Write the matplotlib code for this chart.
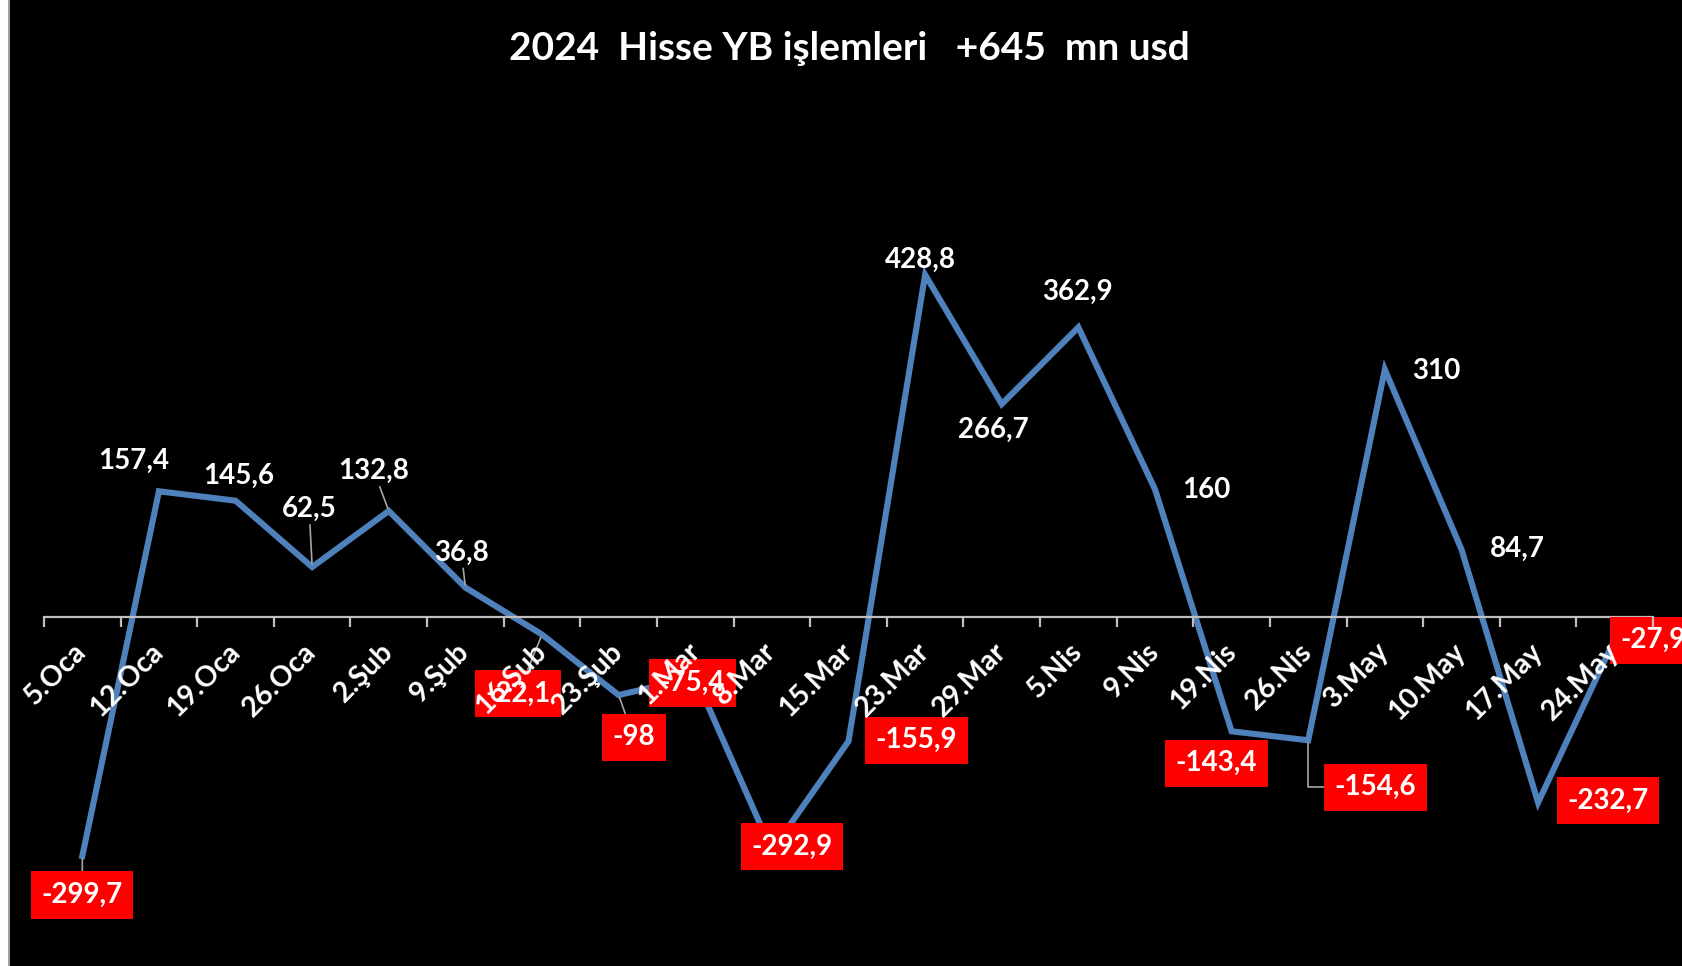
import matplotlib
matplotlib.use('Agg')
import matplotlib.pyplot as plt
from matplotlib.patches import Rectangle
from matplotlib.ticker import FixedLocator

# ---- data ----
title = "2024  Hisse YB işlemleri   +645  mn usd"
categories = ["5.Oca", "12.Oca", "19.Oca", "26.Oca", "2.Şub", "9.Şub", "16.Şub",
              "23.Şub", "1.Mar", "8.Mar", "15.Mar", "23.Mar", "29.Mar", "5.Nis",
              "9.Nis", "19.Nis", "26.Nis", "3.May", "10.May", "17.May", "24.May"]
values = [-299.7, 157.4, 145.6, 62.5, 132.8, 36.8, -22.1, -98, -75.4, -292.9,
          -155.9, 428.8, 266.7, 362.9, 160, -143.4, -154.6, 310, 84.7, -232.7, -27.9]

# ---- label placement (pixel offsets from point) ----
offsets = [(0, -39), (-25, 30), (3, 25), (-3, 58), (-15, 40), (-4, 35), (-24, -59),
           (15, -42), (-3, -6), (20, 4), (68, 1), (-5, 15), (-8, -26), (-1, 35),
           (51, -1), (-15, -32), (67, -47), (51, -1), (56, 0), (70, 2), (38, -1)]
leaders = {0, 3, 4, 5, 6, 7, 16}

W, H = 1682, 966
fig = plt.figure(figsize=(W / 100, H / 100), dpi=100)
fig.patch.set_facecolor('black')
fig.patches.append(Rectangle((0, 0), 8 / W, 1, transform=fig.transFigure,
                             facecolor='white', edgecolor='none', zorder=0))
fig.patches.append(Rectangle((8 / W, 0), 1.5 / W, 1, transform=fig.transFigure,
                             facecolor='#A0A0A0', edgecolor='none', zorder=0))

ax = fig.add_axes([44 / W, 0.031, (1653 - 44) / W, 0.826])
ax.set_facecolor('none')

x = list(range(len(categories)))
ax.plot(x, values, color='#4F81BD', lw=4.4, solid_joinstyle='miter', zorder=2)

ax.set_xlim(-0.5, len(categories) - 0.5)
ax.set_ylim(-400, 600)

for s in ['left', 'right', 'top']:
    ax.spines[s].set_visible(False)
ax.spines['bottom'].set_position(('data', 0))
ax.spines['bottom'].set_color('#BFBFBF')
ax.spines['bottom'].set_linewidth(1.6)
ax.set_yticks([])

ax.set_xticks(x)
ax.set_xticklabels(categories, rotation=45, ha='right', va='center',
                   rotation_mode='anchor', color='white', fontsize=20.5,
                   fontweight='bold', family='Lato')
ax.tick_params(axis='x', which='major', length=0, pad=22)
ax.xaxis.set_minor_locator(FixedLocator([i - 0.5 for i in range(len(categories) + 1)]))
ax.tick_params(axis='x', which='minor', length=7, width=1.6, color='#BFBFBF',
               direction='out')
ax.xaxis.set_zorder(4)

for i, v in enumerate(values):
    txt = f"{v:g}".replace('.', ',')
    dx, dy = offsets[i]
    kw = dict(xy=(i, v), xytext=(dx, dy), textcoords='offset pixels',
              ha='center', va='center', color='white', fontsize=20,
              fontweight='bold', family='Lato', zorder=3, annotation_clip=False)
    if v < 0:
        kw['bbox'] = dict(boxstyle='square,pad=0.38', facecolor='#FF0000',
                          edgecolor='none')
    if i in leaders:
        cs = 'angle,angleA=0,angleB=90,rad=0' if i == 16 else 'arc3'
        kw['arrowprops'] = dict(arrowstyle='-', color='#A6A6A6', lw=1.2,
                                shrinkA=0, shrinkB=2, connectionstyle=cs)
    ax.annotate(txt, **kw)

fig.text(849 / W, 1 - 48 / H, title, ha='center', va='center', color='white',
         fontsize=28, fontweight='bold', family='Lato')

fig.savefig('out.png', dpi=100, facecolor=fig.get_facecolor())
